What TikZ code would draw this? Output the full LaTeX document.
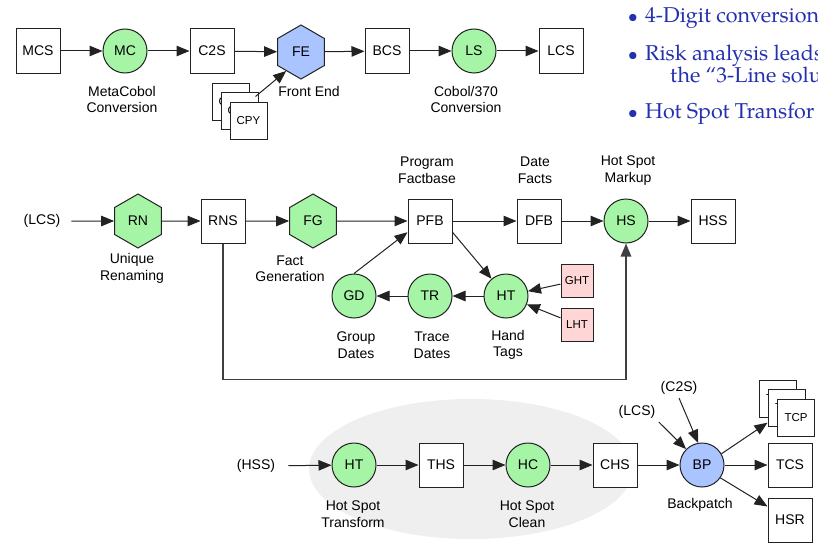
\documentclass[tikz,border=0pt]{standalone}
\usepackage{fontspec}
\setmainfont{Liberation Sans}
\newfontfamily\palfont{TeX Gyre Pagella}
\usetikzlibrary{arrows.meta,shapes.geometric,calc}
\definecolor{ngreen}{HTML}{A6F5A6}
\definecolor{nblue}{HTML}{A9C4FF}
\definecolor{npink}{HTML}{FFD6D6}
\definecolor{ngray}{HTML}{EFEFEF}
\definecolor{tblue}{HTML}{2430B0}
\definecolor{lin}{HTML}{222222}
\begin{document}
\begin{tikzpicture}[x=1pt,y=-1pt,
  every node/.style={font=\fontsize{14}{16.5}\selectfont, text=black},
  box/.style={draw=lin, line width=1pt, fill=white, minimum size=44pt, inner sep=0pt},
  sbox/.style={draw=lin, line width=1pt, fill=white, minimum size=37pt, inner sep=0pt, font=\fontsize{11.5}{13}\selectfont},
  pbox/.style={draw=lin, line width=1pt, fill=npink, minimum width=32pt, minimum height=33pt, inner sep=0pt, font=\fontsize{11.5}{13}\selectfont},
  proc/.style={circle, draw=lin, line width=1pt, fill=ngreen, minimum size=44pt, inner sep=0pt},
  hexa/.style={regular polygon, regular polygon sides=6, shape border rotate=30, draw=lin, line width=1pt, fill=ngreen, minimum size=54pt, inner sep=0pt},
  lbl/.style={align=center, inner sep=0pt},
  arr/.style={-{Triangle[length=13pt,width=10.5pt]}, line width=1pt, draw=lin},
  bodytext/.style={anchor=base west, inner sep=0pt, text=tblue, font=\palfont\fontsize{21.5}{24}\selectfont},
  bul/.style={anchor=base, inner sep=0pt, text=tblue, font=\palfont\fontsize{18}{22}\selectfont},
]
\useasboundingbox (0,0) rectangle (818,543);
\fill[white] (0,0) rectangle (818,543);
% background ellipse
\fill[ngray] (471,469) ellipse [x radius=162pt, y radius=70pt];

% ---------- row 1 ----------
\node[box]  (MCS) at (38,51) {MCS};
\node[proc] (MC)  at (125,51) {MC};
\node[box]  (C2S) at (212,51) {C2S};
\node[hexa, fill=nblue] (FE) at (301,52) {FE};
\node[box]  (BCS) at (387,51) {BCS};
\node[proc] (LS)  at (474,51) {LS};
\node[box]  (LCS) at (561,51) {LCS};
\node[sbox] (cpy1) at (230.5,101.5) {CPY};
\node[sbox] (cpy2) at (239.5,110.5) {CPY};
\node[sbox] (cpy3) at (248.5,120.5) {CPY};
\node[lbl] (lMC) at (122,99.5) {MetaCobol\\Conversion};
\node[lbl] (lFE) at (309,91) {Front End};
\node[lbl] (lLS) at (466,99.5) {Cobol/370\\Conversion};
\draw[arr] (MCS) -- (MC);
\draw[arr] (MC) -- (C2S);
\draw[arr] (C2S) -- (FE);
\draw[arr] (FE) -- (BCS);
\draw[arr] (BCS) -- (LS);
\draw[arr] (LS) -- (LCS);
\draw[arr] ($(cpy2.north east)+(-3,5)$) -- (FE.232);

% ---------- row 2 ----------
\node[inner xsep=11pt] (lcsin) at (42,221) {(LCS)};
\node[hexa] (RN) at (138,221) {RN};
\node[box]  (RNS) at (223,221) {RNS};
\node[hexa] (FG) at (313,221) {FG};
\node[box]  (PFB) at (430,221) {PFB};
\node[box]  (DFB) at (539,221) {DFB};
\node[proc] (HS)  at (626,221) {HS};
\node[box]  (HSS) at (713,221) {HSS};
\node[proc] (GD)  at (354,296) {GD};
\node[proc] (TR)  at (430,296) {TR};
\node[proc] (HT)  at (506,296) {HT};
\node[pbox] (GHT) at (577,280.5) {GHT};
\node[pbox] (LHT) at (577,324.5) {LHT};
\node[lbl] at (132,268.5) {Unique\\Renaming};
\node[lbl] at (290,268.5) {Fact\\Generation};
\node[lbl] at (427,170.5) {Program\\Factbase};
\node[lbl] at (535,170.5) {Date\\Facts};
\node[lbl] at (628,170.5) {Hot Spot\\Markup};
\node[lbl] at (356,345) {Group\\Dates};
\node[lbl] at (432,345) {Trace\\Dates};
\node[lbl] at (508,345) {Hand\\Tags};
\draw[arr] (lcsin) -- (RN);
\draw[arr] (RN) -- (RNS);
\draw[arr] (RNS) -- (FG);
\draw[arr] (FG) -- (PFB);
\draw[arr] (PFB) -- (DFB);
\draw[arr] (DFB) -- (HS);
\draw[arr] (HS) -- (HSS);
\draw[arr] (GD.north) -- ($(PFB.west)!0.5!(PFB.south west)$);
\draw[arr] ($(PFB.east)!0.5!(PFB.south east)$) -- (HT);
\draw[arr] (HT) -- (TR);
\draw[arr] (TR) -- (GD);
\draw[arr] (GHT) -- (HT);
\draw[arr] (LHT) -- (HT);
\draw[arr, line width=1.2pt, draw=black!75] (RNS.south) -- ++(0,136) -| (HS.south);

% ---------- row 3 ----------
\node[inner xsep=13pt] (hssin) at (256,466) {(HSS)};
\node[proc] (HT2) at (354,465) {HT};
\node[box]  (THS) at (441,465) {THS};
\node[proc] (HC)  at (528,465) {HC};
\node[box]  (CHS) at (615,465) {CHS};
\node[proc, fill=nblue] (BP) at (702,465) {BP};
\node[box]  (TCS) at (790,465) {TCS};
\node[box]  (HSR) at (790,520) {HSR};
\node[sbox] (tcp1) at (777.5,398.5) {TCP};
\node[sbox] (tcp2) at (786.5,407.5) {TCP};
\node[sbox] (tcp3) at (796,417.5) {TCP};
\node (lcsbp) at (637,412) {(LCS)};
\node (c2sbp) at (679,388) {(C2S)};
\node[lbl] at (353,514) {Hot Spot\\Transform};
\node[lbl] at (527,514) {Hot Spot\\Clean};
\node[lbl] at (700,505) {Backpatch};
\draw[arr] (hssin) -- (HT2);
\draw[arr] (HT2) -- (THS);
\draw[arr] (THS) -- (HC);
\draw[arr] (HC) -- (CHS);
\draw[arr] (CHS) -- (BP);
\draw[arr] (BP) -- (TCS);
\draw[arr] (lcsbp.south east) -- (BP.135);
\draw[arr] (c2sbp.south) -- (BP.100);
\draw[arr] (BP.30) -- ($(tcp2.south west)!0.1!(tcp2.north west)$);
\draw[arr] (BP.-35) -- ($(HSR.north west)!0.2!(HSR.south west)$);

% ---------- right text ----------
\begin{scope}
\clip (0,0) rectangle (818,543);
\node[bul] (b1) at (633,23) {\textbullet};
\node[bodytext] (t1) at (645,23) {4-Digit conversion};
\node[bul] (b2) at (633,60) {\textbullet};
\node[bodytext] (t2) at (645,60) {Risk analysis leads};
\node[bodytext] (t2b) at (670,82) {the “3-Line solu};
\node[bul] (b3) at (633,118) {\textbullet};
\node[bodytext] (t3) at (645,118) {Hot Spot Transfor};
\end{scope}
\end{tikzpicture}
\end{document}
